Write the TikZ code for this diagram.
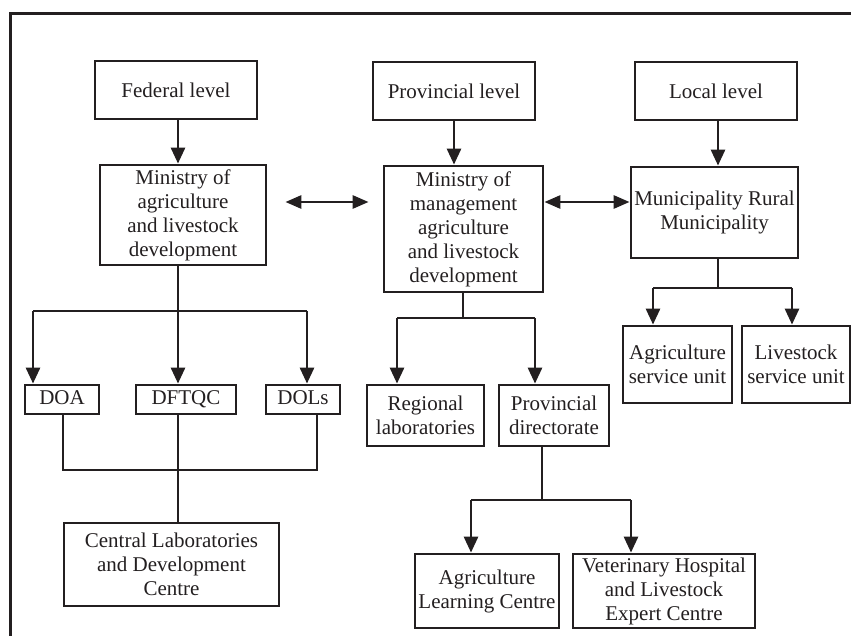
\documentclass[tikz,border=0pt]{standalone}
\usepackage{fontspec}
\setmainfont{Liberation Serif}
\usetikzlibrary{arrows.meta}
\definecolor{ink}{HTML}{231F20}
\tikzset{
  box/.style={draw=ink, line width=2.8pt, inner sep=0pt, align=center, text=ink,
    font=\fontsize{21}{24}\selectfont},
  link/.style={draw=ink, line width=2.8pt},
  arr/.style={link, -{Triangle[length=16pt,width=14pt]}},
  dbl/.style={link, {Triangle[length=16pt,width=13pt]}-{Triangle[length=16pt,width=13pt]}},
}
\begin{document}
\begin{tikzpicture}[x=1pt,y=-1pt]
\useasboundingbox (0,0) rectangle (851,636);
\draw[draw=ink, line width=3pt] (10,636) -- (10,14) -- (851,14);

% top level
\node[box, minimum width=162, minimum height=58] (fed) at (176,90) {Federal level};
\node[box, minimum width=162, minimum height=58] (prov) at (454,91) {Provincial level};
\node[box, minimum width=162, minimum height=58] (loc) at (716,91) {Local level};

% ministries
\node[box, minimum width=166, minimum height=100] (minag) at (183,215)
  {Ministry of\\agriculture\\and livestock\\development};
\node[box, minimum width=159, minimum height=126] (minman) at (463.5,229)
  {Ministry of\\management\\agriculture\\and livestock\\development};
\node[box, minimum width=167, minimum height=91] (muni) at (714.5,212.5)
  {Municipality Rural\\Municipality};

% federal departments
\node[box, minimum width=74, minimum height=29, text depth=3pt] (doa) at (62,399.5) {DOA};
\node[box, minimum width=100, minimum height=29, text depth=3pt] (dftqc) at (186,399.5) {DFTQC};
\node[box, minimum width=74, minimum height=29, text depth=3pt] (dols) at (303,399.5) {DOLs};
\node[box, minimum width=215, minimum height=83] (central) at (171.5,564.5)
  {Central Laboratories\\and Development\\Centre};

% provincial
\node[box, minimum width=117, minimum height=61] (regl) at (425.5,415.5) {Regional\\laboratories};
\node[box, minimum width=110, minimum height=61] (provdir) at (554,415.5) {Provincial\\directorate};
\node[box, minimum width=144, minimum height=74] (alc) at (487,591) {Agriculture\\Learning Centre};
\node[box, minimum width=182, minimum height=74] (vet) at (664,591)
  {Veterinary Hospital\\and Livestock\\Expert Centre};

% local
\node[box, minimum width=109, minimum height=77] (asu) at (677.5,364.5) {Agriculture\\service unit};
\node[box, minimum width=108, minimum height=77] (lsu) at (796,364.5) {Livestock\\service unit};

% junction coordinates
\coordinate (row) at (0,202);
\coordinate (j1) at (178,311);
\coordinate (jL) at (33,311);
\coordinate (jR) at (307,311);
\coordinate (kL) at (63,470);
\coordinate (kR) at (317,470);
\coordinate (m1) at (463,318);
\coordinate (mL) at (397,318);
\coordinate (mR) at (535,318);
\coordinate (p1) at (542,500);
\coordinate (pL) at (471,500);
\coordinate (pR) at (631,500);
\coordinate (u1) at (718,288);
\coordinate (uL) at (653,288);
\coordinate (uR) at (792,288);

% level arrows
\draw[arr] (fed.south -| j1) -- (j1 |- minag.north);
\draw[arr] (prov.south) -- (prov.south |- minman.north);
\draw[arr] (loc.south -| u1) -- (u1 |- muni.north);

% horizontal double arrows
\draw[dbl, shorten <=18pt, shorten >=14pt] (minag.east |- row) -- (minman.west |- row);
\draw[dbl] (minman.east |- row) -- (muni.west |- row);

% federal tree
\draw[link] (minag.south -| j1) -- (j1);
\draw[link] (jL) -- (jR);
\draw[arr] (jL) -- (jL |- doa.north);
\draw[arr] (j1) -- (j1 |- dftqc.north);
\draw[arr] (jR) -- (jR |- dols.north);
\draw[link] (kL |- doa.south) -- (kL) -- (kR) -- (kR |- dols.south);
\draw[link] (dftqc.south -| j1) -- (j1 |- central.north);

% provincial tree
\draw[link] (minman.south -| m1) -- (m1);
\draw[link] (mL) -- (mR);
\draw[arr] (mL) -- (mL |- regl.north);
\draw[arr] (mR) -- (mR |- provdir.north);
\draw[link] (provdir.south -| p1) -- (p1);
\draw[link] (pL) -- (pR);
\draw[arr] (pL) -- (pL |- alc.north);
\draw[arr] (pR) -- (pR |- vet.north);

% local tree
\draw[link] (muni.south -| u1) -- (u1);
\draw[link] (uL) -- (uR);
\draw[arr] (uL) -- (uL |- asu.north);
\draw[arr] (uR) -- (uR |- lsu.north);
\end{tikzpicture}
\end{document}
